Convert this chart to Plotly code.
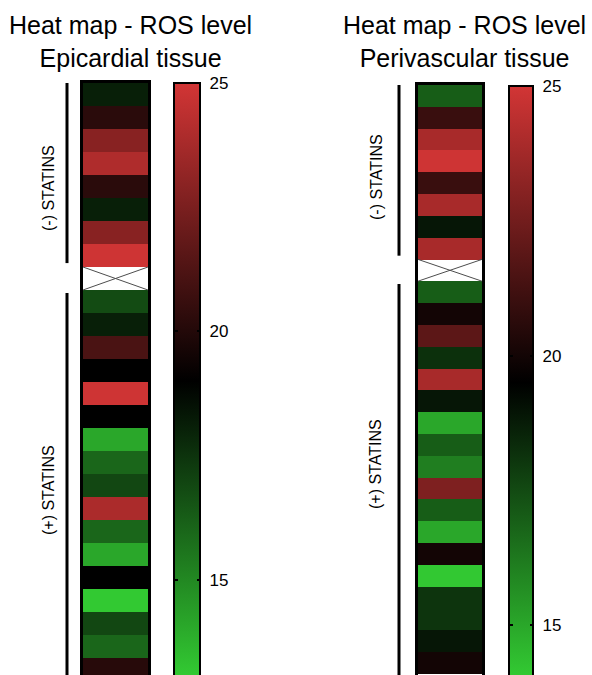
import plotly.graph_objects as go

# ---------------- data ----------------
epi_values = [18.1, 20.2, 22.9, 24.0, 20.2, 18.1, 22.9, 24.9, None,
              16.8, 18.1, 21.1, 19.0, 24.9, 19.0, 14.1, 16.0, 16.9,
              23.9, 16.0, 14.1, 19.0, 13.1, 16.9, 16.0, 20.1]
peri_values = [17.0, 21.0, 23.9, 24.9, 21.0, 23.9, 18.9, 23.9, None,
               17.0, 20.0, 21.9, 18.2, 23.9, 18.9, 15.0, 17.0, 16.1,
               22.8, 17.0, 15.0, 20.0, 14.1, 18.1, 18.1, 18.9, 20.0]
epi_range = [13, 25]
peri_range = [14, 25]
cbar_ticks = [15, 20, 25]
cbar_ticktext = ["15", "20", "25"]
group_labels = ["(-) STATINS", "(+) STATINS"]
panel_titles = ["Heat map - ROS level<br>Epicardial tissue",
                "Heat map - ROS level<br>Perivascular tissue"]

# ---------------- style ----------------
W, H = 592, 675
FONT = "Liberation Sans, Arial, sans-serif"
colorscale = [[0.0, "#33cc33"], [0.5, "#000000"], [1.0, "#d23535"]]
NBSP = "\u00a0"

panels = [
    dict(values=epi_values, rng=epi_range, xa="x", ya="y",
         cell=(83, 148), top=83, row_h=23.0,
         cb_x=174, cb_th=26, cb_top=83, pad=1,
         br_x=67, lab_x=48, lab_y=(188, 490), title_x=130,
         title=panel_titles[0]),
    dict(values=peri_values, rng=peri_range, xa="x2", ya="y2",
         cell=(418, 482), top=85, row_h=21.8,
         cb_x=509, cb_th=24, cb_top=86, pad=1,
         br_x=399, lab_x=376, lab_y=(177, 464), title_x=464,
         title=panel_titles[1]),
]

fig = go.Figure()
shapes = []
annotations = []
layout_axes = {}

for i, p in enumerate(panels):
    vals = p["values"]
    n = len(vals)
    lo, hi = p["rng"]
    missing = [k for k, v in enumerate(vals) if v is None]
    m = missing[0]
    plot_h = H - p["top"]
    visible_rows = plot_h / p["row_h"]
    cb_len = (H - p["cb_top"]) + 4  # bar runs a bit past the bottom edge
    cb_y = 1 - p["cb_top"] / H

    fig.add_trace(go.Heatmap(
        z=[[v] for v in vals], x=[0], y=list(range(n)),
        zmin=lo, zmax=hi, colorscale=colorscale,
        xaxis=p["xa"], yaxis=p["ya"], hoverongaps=False,
        colorbar=dict(
            x=p["cb_x"] / W, xanchor="left", xpad=0,
            y=cb_y, yanchor="top", ypad=0,
            lenmode="pixels", len=cb_len, thickness=p["cb_th"],
            outlinewidth=2, outlinecolor="black",
            tickvals=cbar_ticks,
            ticktext=[NBSP * p["pad"] + t for t in cbar_ticktext],
            ticks="inside", ticklen=4, tickwidth=2, tickcolor="black",
            tickfont=dict(family=FONT, size=17, color="black"),
        ),
    ))
    # second (hair-thin) colour bar: supplies the tick marks on the left edge
    fig.add_trace(go.Heatmap(
        z=[[v] for v in vals], x=[0], y=list(range(n)),
        zmin=lo, zmax=hi, colorscale=[[0, "black"], [1, "black"]],
        opacity=0, hoverinfo="skip",
        xaxis=p["xa"], yaxis=p["ya"],
        colorbar=dict(
            x=(p["cb_x"] - 1) / W, xanchor="left", xpad=0,
            y=cb_y, yanchor="top", ypad=0,
            lenmode="pixels", len=cb_len, thickness=1,
            outlinewidth=0,
            tickvals=cbar_ticks, showticklabels=False,
            ticks="outside", ticklen=4, tickwidth=2, tickcolor="black",
        ),
    ))
    # missing-value cross
    fig.add_trace(go.Scatter(
        x=[-0.5, 0.5, None, -0.5, 0.5],
        y=[m - 0.5, m + 0.5, None, m + 0.5, m - 0.5],
        mode="lines", line=dict(color="#4d4d4d", width=1),
        xaxis=p["xa"], yaxis=p["ya"], hoverinfo="skip", showlegend=False,
    ))

    x0, x1 = p["cell"]
    xkey = "xaxis" if p["xa"] == "x" else "xaxis2"
    ykey = "yaxis" if p["ya"] == "y" else "yaxis2"
    layout_axes[xkey] = dict(
        domain=[x0 / W, x1 / W], range=[-0.5, 0.5], side="top",
        showline=True, linecolor="black", linewidth=3, mirror=False,
        showticklabels=False, ticks="", showgrid=False, zeroline=False,
        anchor=p["ya"], fixedrange=True,
    )
    layout_axes[ykey] = dict(
        domain=[0, 1 - p["top"] / H],
        range=[-0.5 + visible_rows, -0.5],
        showline=True, linecolor="black", linewidth=3, mirror=True,
        showticklabels=False, ticks="", showgrid=False, zeroline=False,
        anchor=p["xa"], fixedrange=True,
    )

    # group brackets
    bx = (p["br_x"] - x0) / (x1 - x0)
    groups = [(0, m - 1), (m + 1, n - 1)]
    insets = [(0.0, 0.17), (0.13, -1.0)]
    for (g0, g1), (a, b) in zip(groups, insets):
        shapes.append(dict(
            type="line", xref=p["xa"] + " domain", yref=p["ya"],
            x0=bx, x1=bx, y0=g0 - 0.5 + a, y1=g1 + 0.5 - b,
            line=dict(color="black", width=3),
        ))
    for lab, ly in zip(group_labels, p["lab_y"]):
        annotations.append(dict(
            text=lab, xref="paper", yref="paper",
            x=p["lab_x"] / W, y=1 - ly / H, xanchor="center", yanchor="middle",
            textangle=-90, showarrow=False,
            font=dict(family=FONT, size=16, color="black"),
        ))
    annotations.append(dict(
        text=p["title"], xref="paper", yref="paper",
        x=p["title_x"] / W, y=1 - 42 / H, xanchor="center", yanchor="middle",
        showarrow=False, align="center",
        font=dict(family=FONT, size=25, color="black"),
    ))

fig.update_layout(
    width=W, height=H,
    margin=dict(l=0, r=0, t=0, b=0, autoexpand=False),
    paper_bgcolor="white", plot_bgcolor="white",
    shapes=shapes, annotations=annotations,
    showlegend=False,
    **layout_axes,
)

fig.write_html(
    "out.html",
    config={"displayModeBar": False},
    post_script="document.body.style.margin='0';"
                "document.body.style.overflow='hidden';",
)
